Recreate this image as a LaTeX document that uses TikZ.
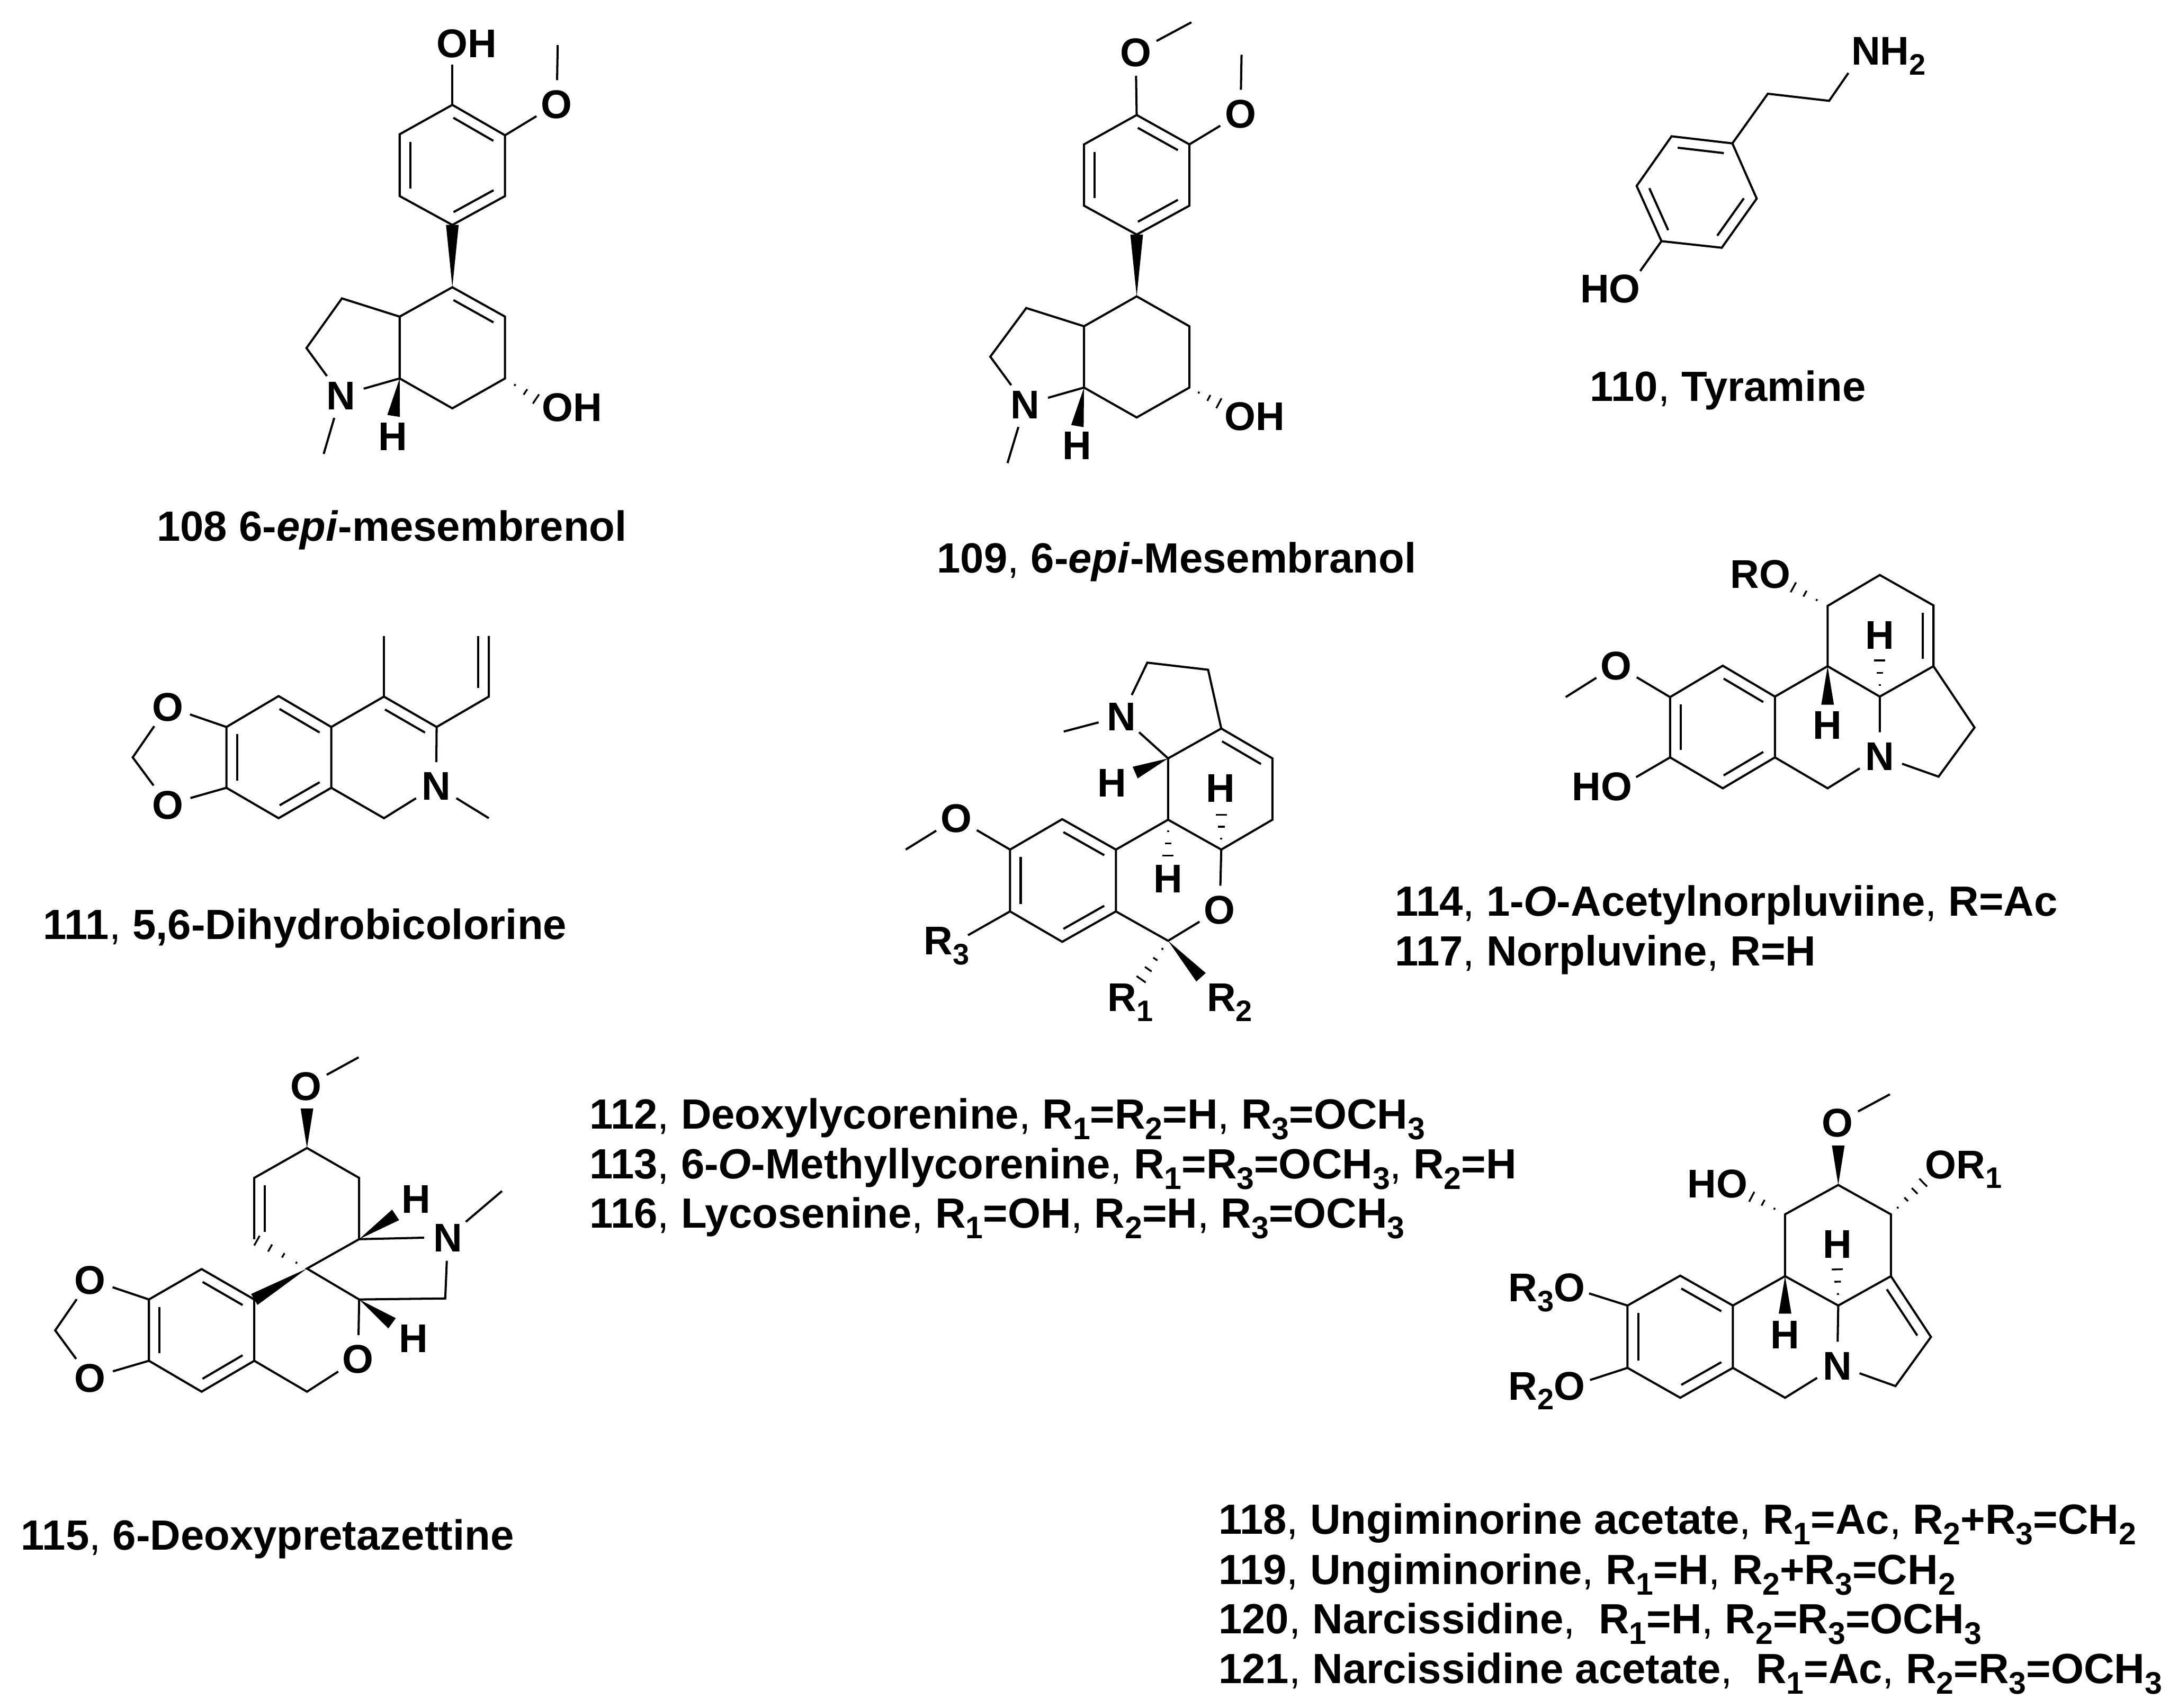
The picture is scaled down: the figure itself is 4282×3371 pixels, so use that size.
\documentclass[tikz,border=0pt]{standalone}
\usepackage{fontspec}
\setmainfont{Liberation Sans}
\usetikzlibrary{calc}
\newcommand{\sbs}[1]{\raisebox{-.25em}{\scalebox{.74}{#1}}}
\newcommand{\cma}{\textmd{,}}
\newcommand{\dbl}[2]{\draw[bond] ($(#1)!.12!(#2)!.21cm!-90:(#2)$) -- ($(#2)!.12!(#1)!.21cm!90:(#1)$);}
\newcommand{\wdg}[2]{\fill (#1) -- ($(#2)!.125cm!90:(#1)$) -- ($(#2)!.125cm!-90:(#1)$) -- cycle;}
\newcommand{\hsh}[2]{\foreach \t/\w in {.3/.02,.62/.065,.94/.11} \draw[hashb] ($(#1)!\t!(#2)!\w cm!90:(#2)$) -- ($(#1)!\t!(#2)!\w cm!-90:(#2)$);}
\newcommand{\hshl}[2]{\foreach \t/\w in {.2/.02,.45/.05,.7/.08,.95/.11} \draw[hashb] ($(#1)!\t!(#2)!\w cm!90:(#2)$) -- ($(#1)!\t!(#2)!\w cm!-90:(#2)$);}
\tikzset{
  bond/.style = {line width=1.2pt, line join=miter},
  hashb/.style = {line width=1pt},
  atom/.style = {circle, inner sep=0pt, minimum size=.92cm, text height=.565cm, text depth=0pt, font=\fontsize{22.5}{26}\selectfont\bfseries},
  lab/.style = {inner sep=0pt, text height=.565cm, text depth=0pt, font=\fontsize{22.5}{26}\selectfont\bfseries},
  rlab/.style = {inner sep=0pt, anchor=base west, font=\fontsize{22.5}{26}\selectfont\bfseries},
  caption/.style = {inner sep=0pt, anchor=base west, font=\fontsize{23.7}{28}\selectfont\bfseries}
}
\begin{document}
\begin{tikzpicture}[x=.01cm, y=-.01cm]
\useasboundingbox (0,0) rectangle (4282,3371);

\coordinate (a1) at (893,207); \coordinate (a2) at (997,267); \coordinate (a3) at (997,387);
\coordinate (a4) at (893,444); \coordinate (a5) at (789,387); \coordinate (a6) at (789,265);
\coordinate (a7) at (893,567); \coordinate (a8) at (997,625); \coordinate (a9) at (997,747);
\coordinate (a10) at (893,806); \coordinate (a11) at (789,747); \coordinate (a12) at (789,625);
\coordinate (a13) at (675,589); \coordinate (a14) at (605,687); \coordinate (a15) at (1101,89);
\coordinate (a16) at (893,128); \coordinate (a17) at (639,896); \coordinate (a18) at (777,821);
\coordinate (a19) at (1062,790);
\node[atom] (aN) at (673,780) {N};
\node[atom] (aO) at (1099,205) {O};
\node[lab] (aOH1) at (921,85) {OH};
\node[lab] (aOH2) at (1129,803) {OH};
\node[lab] (aH) at (776,861) {H};
\draw[bond] (a1) -- (a2) -- (a3) -- (a4) -- (a5) -- (a6) -- cycle;
\draw[bond] (a7) -- (a8) -- (a9) -- (a10) -- (a11) -- (a12) -- cycle;
\draw[bond] (a12) -- (a13) -- (a14) -- (aN) -- (a11);
\draw[bond] (a1) -- (a16);
\draw[bond] (a2) -- (aO) -- (a15);
\draw[bond] (aN) -- (a17);
\dbl{a1}{a2} \dbl{a3}{a4} \dbl{a5}{a6} \dbl{a7}{a8}
\wdg{a7}{a4} \wdg{a11}{a18} \hsh{a9}{a19}
\node[caption] (t108) at (309,1068) {108 6-\textit{epi}-mesembrenol};

\coordinate (b1) at (2244,227); \coordinate (b2) at (2348,285); \coordinate (b3) at (2348,406);
\coordinate (b4) at (2244,463); \coordinate (b5) at (2140,406); \coordinate (b6) at (2140,285);
\coordinate (b7) at (2244,585); \coordinate (b8) at (2348,644); \coordinate (b9) at (2348,765);
\coordinate (b10) at (2244,824); \coordinate (b11) at (2140,765); \coordinate (b12) at (2140,644);
\coordinate (b13) at (2026,608); \coordinate (b14) at (1955,704); \coordinate (b15) at (2451,108);
\coordinate (b16) at (2352,44); \coordinate (b17) at (1989,914); \coordinate (b18) at (2127,841);
\coordinate (b19) at (2410,798);
\node[atom] (bN) at (2024,798) {N};
\node[atom] (bO1) at (2242,103) {O};
\node[atom] (bO2) at (2449,224) {O};
\node[lab] (bOH) at (2477,821) {OH};
\node[lab] (bH) at (2126,879) {H};
\draw[bond] (b1) -- (b2) -- (b3) -- (b4) -- (b5) -- (b6) -- cycle;
\draw[bond] (b7) -- (b8) -- (b9) -- (b10) -- (b11) -- (b12) -- cycle;
\draw[bond] (b12) -- (b13) -- (b14) -- (bN) -- (b11);
\draw[bond] (b1) -- (bO1) -- (b16);
\draw[bond] (b2) -- (bO2) -- (b15);
\draw[bond] (bN) -- (b17);
\dbl{b1}{b2} \dbl{b3}{b4} \dbl{b5}{b6}
\wdg{b7}{b4} \wdg{b11}{b18} \hsh{b9}{b19}
\node[caption] (t109) at (1849,1131) {109\cma{} 6-\textit{epi}-Mesembranol};

\coordinate (c1) at (3420,283); \coordinate (c2) at (3468,392); \coordinate (c3) at (3399,489);
\coordinate (c4) at (3280,476); \coordinate (c5) at (3231,367); \coordinate (c6) at (3300,269);
\coordinate (c7) at (3490,185); \coordinate (c8) at (3611,199); \coordinate (c9) at (3649,144);
\coordinate (c10) at (3238,535);
\node[rlab] (cNH) at (3654,128) {NH\sbs{2}};
\node[lab] (cHO) at (3179,569) {HO};
\draw[bond] (c1) -- (c2) -- (c3) -- (c4) -- (c5) -- (c6) -- cycle;
\draw[bond] (c1) -- (c7) -- (c8) -- (c9);
\draw[bond] (c4) -- (c10);
\dbl{c6}{c1} \dbl{c2}{c3} \dbl{c4}{c5}
\node[caption] (t110) at (3138,792) {110\cma{} Tyramine};

\coordinate (d1) at (550,1374); \coordinate (d2) at (654,1435); \coordinate (d3) at (654,1555);
\coordinate (d4) at (550,1615); \coordinate (d5) at (447,1555); \coordinate (d6) at (447,1435);
\coordinate (d7) at (758,1375); \coordinate (d8) at (862,1435); \coordinate (d9) at (758,1615);
\coordinate (d10) at (262,1495); \coordinate (d11) at (758,1255); \coordinate (d12) at (965,1375);
\coordinate (d13) at (965,1255); \coordinate (d14) at (944,1255); \coordinate (d15) at (944,1358);
\coordinate (d16) at (965,1615);
\node[atom] (dN) at (861,1551) {N};
\node[atom] (dO1) at (331,1395) {O};
\node[atom] (dO2) at (331,1588) {O};
\draw[bond] (d1) -- (d2) -- (d3) -- (d4) -- (d5) -- (d6) -- cycle;
\draw[bond] (d2) -- (d7) -- (d8) -- (dN) -- (d9) -- (d3);
\draw[bond] (d6) -- (dO1) -- (d10) -- (dO2) -- (d5);
\draw[bond] (d7) -- (d11);
\draw[bond] (d8) -- (d12) -- (d13);
\draw[bond] (d14) -- (d15);
\draw[bond] (dN) -- (d16);
\dbl{d1}{d2} \dbl{d3}{d4} \dbl{d5}{d6} \dbl{d7}{d8}
\node[caption] (t111) at (85,1854) {111\cma{} 5,6-Dihydrobicolorine};

\coordinate (e1) at (3401,1314); \coordinate (e2) at (3504,1375); \coordinate (e3) at (3504,1495);
\coordinate (e4) at (3401,1556); \coordinate (e5) at (3297,1495); \coordinate (e6) at (3297,1376);
\coordinate (e7) at (3608,1315); \coordinate (e8) at (3711,1375); \coordinate (e9) at (3608,1556);
\coordinate (e10) at (3608,1196); \coordinate (e11) at (3711,1135); \coordinate (e12) at (3817,1195);
\coordinate (e13) at (3817,1315); \coordinate (e14) at (3898,1436); \coordinate (e15) at (3827,1533);
\coordinate (e16) at (3091,1376); \coordinate (e17) at (3230,1534); \coordinate (e18) at (3536,1157);
\coordinate (e19) at (3608,1391); \coordinate (e20) at (3711,1299);
\node[atom] (eN) at (3711,1492) {N};
\node[atom] (eO) at (3191,1313) {O};
\node[lab] (eHO) at (3163,1552) {HO};
\node[rlab] (eRO) at (3415,1161) {RO};
\node[lab] (eH1) at (3608,1431) {H};
\node[lab] (eH2) at (3711,1253) {H};
\draw[bond] (e1) -- (e2) -- (e3) -- (e4) -- (e5) -- (e6) -- cycle;
\draw[bond] (e2) -- (e7) -- (e8) -- (eN) -- (e9) -- (e3);
\draw[bond] (e7) -- (e10) -- (e11) -- (e12) -- (e13) -- (e8);
\draw[bond] (e13) -- (e14) -- (e15) -- (eN);
\draw[bond] (e6) -- (eO) -- (e16);
\draw[bond] (e5) -- (e17);
\dbl{e1}{e2} \dbl{e3}{e4} \dbl{e5}{e6} \dbl{e12}{e13}
\hsh{e10}{e18} \wdg{e7}{e19} \hsh{e8}{e20}
\node[caption] (t114) at (2753,1808) {114\cma{} 1-\textit{O}-Acetylnorpluviine\cma{} R=Ac};
\node[caption] (t117) at (2753,1906) {117\cma{} Norpluvine\cma{} R=H};

\coordinate (f1) at (2097,1617); \coordinate (f2) at (2203,1677); \coordinate (f3) at (2203,1799);
\coordinate (f4) at (2097,1859); \coordinate (f5) at (1994,1799); \coordinate (f6) at (1994,1677);
\coordinate (f7) at (2306,1618); \coordinate (f8) at (2411,1677); \coordinate (f9) at (2306,1857);
\coordinate (f10) at (2306,1497); \coordinate (f11) at (2411,1438); \coordinate (f12) at (2512,1497);
\coordinate (f13) at (2512,1618); \coordinate (f14) at (2265,1308); \coordinate (f15) at (2385,1322);
\coordinate (f16) at (2100,1444); \coordinate (f17) at (1788,1677); \coordinate (f18) at (1911,1846);
\coordinate (f19) at (2241,1525); \coordinate (f20) at (2411,1604); \coordinate (f21) at (2306,1693);
\coordinate (f22) at (2250,1937); \coordinate (f23) at (2371,1929);
\node[atom] (fN) at (2214,1414) {N};
\node[atom] (fO) at (2408,1795) {O};
\node[atom] (fO2) at (1888,1615) {O};
\node[lab] (fH1) at (2195,1544) {H};
\node[lab] (fH2) at (2409,1555) {H};
\node[lab] (fH3) at (2306,1734) {H};
\node[rlab] (fR3) at (1823,1884) {R\sbs{3}};
\node[rlab] (fR1) at (2186,1996) {R\sbs{1}};
\node[rlab] (fR2) at (2382,1996) {R\sbs{2}};
\draw[bond] (f1) -- (f2) -- (f3) -- (f4) -- (f5) -- (f6) -- cycle;
\draw[bond] (f2) -- (f7) -- (f8) -- (fO) -- (f9) -- (f3);
\draw[bond] (f7) -- (f10) -- (f11) -- (f12) -- (f13) -- (f8);
\draw[bond] (f10) -- (fN) -- (f14) -- (f15) -- (f11);
\draw[bond] (fN) -- (f16);
\draw[bond] (f6) -- (fO2) -- (f17);
\draw[bond] (f5) -- (f18);
\dbl{f1}{f2} \dbl{f3}{f4} \dbl{f5}{f6} \dbl{f11}{f12}
\wdg{f10}{f19} \hsh{f8}{f20} \hsh{f7}{f21} \hshl{f9}{f22} \wdg{f9}{f23}
\node[caption] (t112) at (1163,2228) {112\cma{} Deoxylycorenine\cma{} R\sbs{1}=R\sbs{2}=H\cma{} R\sbs{3}=OCH\sbs{3}};
\node[caption] (t113) at (1163,2327) {113\cma{} 6-\textit{O}-Methyllycorenine\cma{} R\sbs{1}=R\sbs{3}=OCH\sbs{3}\cma{} R\sbs{2}=H};
\node[caption] (t116) at (1163,2424) {116\cma{} Lycosenine\cma{} R\sbs{1}=OH\cma{} R\sbs{2}=H\cma{} R\sbs{3}=OCH\sbs{3}};

\coordinate (g1) at (398,2505); \coordinate (g2) at (502,2565); \coordinate (g3) at (502,2686);
\coordinate (g4) at (398,2747); \coordinate (g5) at (294,2686); \coordinate (g6) at (294,2565);
\coordinate (g7) at (109,2626); \coordinate (g8) at (606,2747); \coordinate (g9) at (709,2565);
\coordinate (g10) at (606,2504); \coordinate (g11) at (709,2446); \coordinate (g12) at (709,2325);
\coordinate (g13) at (606,2266); \coordinate (g14) at (502,2325); \coordinate (g15) at (502,2446);
\coordinate (g16) at (879,2563); \coordinate (g17) at (991,2351); \coordinate (g18) at (606,2188);
\coordinate (g19) at (708,2087); \coordinate (g20) at (781,2398); \coordinate (g21) at (774,2612);
\node[atom] (gN) at (884,2442) {N};
\node[atom] (gO1) at (178,2526) {O};
\node[atom] (gO2) at (178,2720) {O};
\node[atom] (gO3) at (707,2682) {O};
\node[atom] (gO4) at (604,2144) {O};
\node[lab] (gH1) at (822,2366) {H};
\node[lab] (gH2) at (816,2641) {H};
\draw[bond] (g1) -- (g2) -- (g3) -- (g4) -- (g5) -- (g6) -- cycle;
\draw[bond] (g6) -- (gO1) -- (g7) -- (gO2) -- (g5);
\draw[bond] (g3) -- (g8) -- (gO3) -- (g9) -- (g10) -- (g11) -- (g12) -- (g13) -- (g14) -- (g15);
\draw[bond] (g11) -- (gN) -- (g16) -- (g9);
\draw[bond] (gN) -- (g17);
\draw[bond] (gO4) -- (g19);
\dbl{g1}{g2} \dbl{g3}{g4} \dbl{g5}{g6} \dbl{g15}{g14}
\wdg{g10}{g2} \hshl{g10}{g15} \wdg{g13}{g18} \wdg{g11}{g20} \wdg{g9}{g21}
\node[caption] (t115) at (41,3059) {115\cma{} 6-Deoxypretazettine};

\coordinate (h1) at (3317,2518); \coordinate (h2) at (3421,2577); \coordinate (h3) at (3421,2700);
\coordinate (h4) at (3317,2759); \coordinate (h5) at (3213,2700); \coordinate (h6) at (3213,2577);
\coordinate (h7) at (3524,2519); \coordinate (h8) at (3629,2577); \coordinate (h9) at (3524,2759);
\coordinate (h10) at (3524,2397); \coordinate (h11) at (3629,2339); \coordinate (h12) at (3733,2397);
\coordinate (h13) at (3733,2519); \coordinate (h14) at (3812,2639); \coordinate (h15) at (3742,2736);
\coordinate (h16) at (3137,2553); \coordinate (h17) at (3139,2724); \coordinate (h18) at (3454,2360);
\coordinate (h19) at (3800,2331); \coordinate (h20) at (3629,2261); \coordinate (h21) at (3731,2160);
\coordinate (h22) at (3524,2593); \coordinate (h23) at (3627,2501);
\node[atom] (hN) at (3627,2695) {N};
\node[atom] (hO) at (3627,2216) {O};
\node[lab] (hHO) at (3391,2336) {HO};
\node[rlab] (hOR) at (3800,2326) {OR\sbs{1}};
\node[rlab] (hR3) at (2977,2569) {R\sbs{3}O};
\node[rlab] (hR2) at (2977,2763) {R\sbs{2}O};
\node[lab] (hH1) at (3627,2455) {H};
\node[lab] (hH2) at (3524,2634) {H};
\draw[bond] (h1) -- (h2) -- (h3) -- (h4) -- (h5) -- (h6) -- cycle;
\draw[bond] (h2) -- (h7) -- (h8) -- (hN) -- (h9) -- (h3);
\draw[bond] (h7) -- (h10) -- (h11) -- (h12) -- (h13) -- (h8);
\draw[bond] (h13) -- (h14) -- (h15) -- (hN);
\draw[bond] (h6) -- (h16);
\draw[bond] (h5) -- (h17);
\draw[bond] (hO) -- (h21);
\dbl{h1}{h2} \dbl{h3}{h4} \dbl{h5}{h6} \dbl{h13}{h14}
\hsh{h10}{h18} \hshl{h12}{h19} \wdg{h11}{h20} \wdg{h7}{h22} \hsh{h8}{h23}
\node[caption] (t118) at (2405,3028) {118\cma{} Ungiminorine acetate\cma{} R\sbs{1}=Ac\cma{} R\sbs{2}+R\sbs{3}=CH\sbs{2}};
\node[caption] (t119) at (2405,3127) {119\cma{} Ungiminorine\cma{} R\sbs{1}=H\cma{} R\sbs{2}+R\sbs{3}=CH\sbs{2}};
\node[caption] (t120) at (2405,3225) {120\cma{} Narcissidine\cma{}  ~R\sbs{1}=H\cma{} R\sbs{2}=R\sbs{3}=OCH\sbs{3}};
\node[caption] (t121) at (2405,3323) {121\cma{} Narcissidine acetate\cma{}  ~R\sbs{1}=Ac\cma{} R\sbs{2}=R\sbs{3}=OCH\sbs{3}};
\end{tikzpicture}
\end{document}
